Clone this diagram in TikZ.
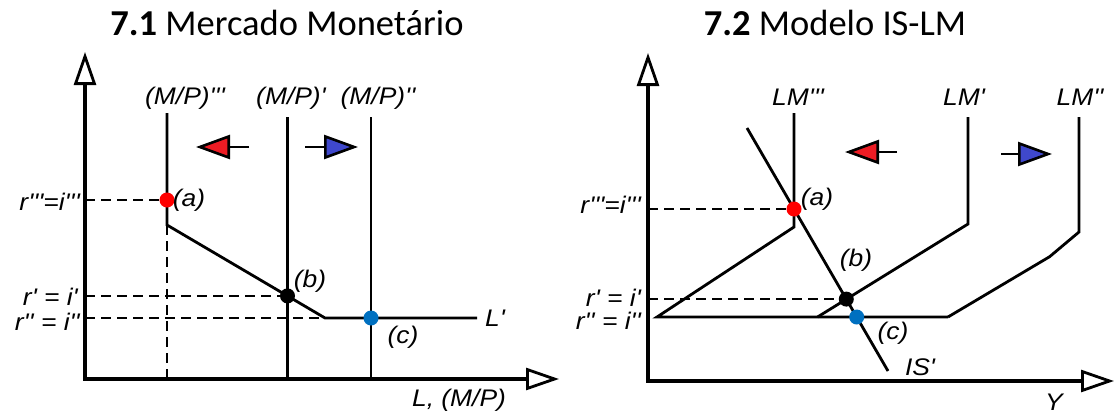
\documentclass[tikz,border=0pt]{standalone}
\usepackage{fontspec}
\setmainfont{Carlito}
\newfontfamily\lblfont[Ligatures=TeXOff,FakeStretch=1.1]{Liberation Sans}
\usepackage{xcolor}
\usepackage{tikz}
\usetikzlibrary{arrows.meta,positioning,calc}
\definecolor{shiftred}{RGB}{237,28,36}
\definecolor{shiftblue}{RGB}{63,72,204}
\definecolor{ptred}{RGB}{255,0,0}
\definecolor{ptblue}{RGB}{0,112,192}
\tikzset{
  axis/.style={line width=3.2pt, {Triangle[open,length=33pt,width=22pt,line width=2.8pt]}-{Triangle[open,length=33pt,width=22pt,line width=2.8pt]}},
  curve/.style={line width=2.8pt},
  guide/.style={line width=2.6pt, dash pattern=on 10pt off 6pt},
  lbl/.style={font=\lblfont\itshape\fontsize{24}{27}\selectfont, inner sep=0pt},
  ttl/.style={font=\fontsize{36.5}{40}\selectfont, inner sep=0pt, anchor=base},
  eqpt/.style={circle, inner sep=0pt, minimum size=15pt},
  goleft/.style={line width=2.6pt, -{Triangle[length=34pt,width=24pt,fill=shiftred,line width=2.6pt]}},
  goright/.style={line width=2.6pt, -{Triangle[length=34pt,width=24pt,fill=shiftblue,line width=2.6pt]}},
}

\begin{document}
\begin{tikzpicture}[x=1pt,y=-1pt]
  \useasboundingbox (0,0) rectangle (1115,415);

  % 7.1 -- money market
  \node[ttl] (ttlA) at (287,35) {\textbf{7.1} Mercado Monetário};
  \draw[axis] (85,52) -- (85,379) -- (559,379);
  \coordinate (kA) at (167,225);
  \coordinate (kB) at (325,318);
  \draw[curve] (167,113) -- (kA) -- (kB) -- (477,318);
  \foreach \x in {287.5,371} \draw[curve] (\x,117) -- (\x,379);
  \node[eqpt, fill=ptred] (aA) at (167,200) {};
  \node[eqpt, fill=black] (bA) at (287.5,295.9) {};
  \node[eqpt, fill=ptblue] (cA) at (371,318) {};
  \draw[guide] (kA) -- (167,379);
  \draw[guide] (85,200) -- (aA);
  \draw[guide] (85,295.9) -- (bA);
  \draw[guide] (85,318) -- (kB);
  \draw[goleft] (249,147) -- (196,147);
  \draw[goright] (305,147) -- (358,147);

  \node[lbl] (mp3) at (185,98) {(M/P)'''};
  \node[lbl] (mp1) at (291,98) {(M/P)'};
  \node[lbl] (mp2) at (378,98) {(M/P)''};
  \node[lbl] (laA) at (189,200) {(a)};
  \node[lbl] (lbA) at (310,281) {(b)};
  \node[lbl] (lcA) at (403,337) {(c)};
  \node[lbl] (demA) at (495,318) {L'};
  \node[lbl] (xA) at (459,400) {L, (M/P)};
  \node[lbl, anchor=east] (r3A) at (80,202) {r'''=i'''};
  \node[lbl, anchor=east] (r1A) at (78,297) {r' = i'};
  \node[lbl, anchor=east] (r2A) at (80,322) {r'' = i''};

  % 7.2 -- IS-LM
  \node[ttl] (ttlB) at (835,35) {\textbf{7.2} Modelo IS-LM};
  \draw[axis] (648,53) -- (648,381) -- (1114,381);
  \coordinate (trap) at (657,317);
  \draw[curve] (794,113) -- (794,227) -- (trap) -- (948,317);
  \draw[curve] (817.5,317) -- (968,224) -- (968,117);
  \draw[curve] (948,317) -- (1049.6,256.7) -- (1079,232) -- (1079,117);
  \draw[curve] (747,128) -- (888,371);
  \node[eqpt, fill=ptred] (aB) at (794,209) {};
  \node[eqpt, fill=black] (bB) at (846.3,299.1) {};
  \node[eqpt, fill=ptblue] (cB) at (856.7,317) {};
  \draw[guide] (648,209) -- (aB);
  \draw[guide] (648,299.1) -- (bB);
  \draw[goleft] (897,152) -- (845,152);
  \draw[goright] (1001,154) -- (1052,154);

  \node[lbl] (lm3) at (798,97) {LM'''};
  \node[lbl] (lm1) at (964,97) {LM'};
  \node[lbl] (lm2) at (1080,97) {LM''};
  \node[lbl] (laB) at (817,199) {(a)};
  \node[lbl] (lbB) at (856,260) {(b)};
  \node[lbl] (lcB) at (893,333) {(c)};
  \node[lbl] (isB) at (920,367) {IS'};
  \node[lbl] (xB) at (1054,402) {Y};
  \node[lbl, anchor=east] (r3B) at (641,205) {r'''=i'''};
  \node[lbl, anchor=east] (r1B) at (641,298) {r' = i'};
  \node[lbl, anchor=east] (r2B) at (641,321) {r'' = i''};
\end{tikzpicture}
\end{document}
